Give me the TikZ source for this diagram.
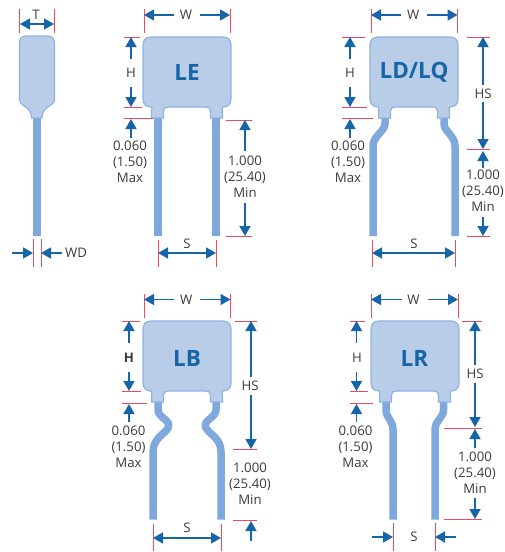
\documentclass[tikz,border=0pt]{standalone}
\usepackage{fontspec}
\setmainfont{Open Sans}
\usetikzlibrary{arrows.meta}
\definecolor{dimblue}{HTML}{1565A8}
\definecolor{redline}{HTML}{EE4A5C}
\definecolor{capfill}{HTML}{B9CDE9}
\definecolor{capedge}{HTML}{8FB2E2}
\definecolor{leadblue}{HTML}{7FA8DC}
\definecolor{txt}{HTML}{3A3A3A}
\tikzset{
  dimline/.style={draw=dimblue,line width=1.5pt,-{Triangle[length=10pt,width=11pt]}},
  dimboth/.style={draw=dimblue,line width=1.5pt,{Triangle[length=10pt,width=11pt]}-{Triangle[length=10pt,width=11pt]}},
  witness/.style={draw=redline,line width=1pt},
  lead/.style={draw=leadblue,line width=7.5pt,line join=round},
  capbody/.style={fill=capfill,draw=capedge,line width=1.2pt},
  lab/.style={text=txt,font=\fontsize{13.2}{16}\selectfont,align=center,inner sep=0pt},
  typename/.style={text=dimblue,font=\fontsize{22.5}{24}\selectfont\bfseries,inner sep=0pt},
}
% body outline, local coordinates: 88 wide, 70 high, necks down to 81
\newcommand{\capshape}{%
  \draw[capbody] (8,0) -- (80,0) .. controls (85,0) and (88,3) .. (88,8)
    -- (88,62) .. controls (88,67) and (85,70) .. (80,70)
    .. controls (78,70) and (79.5,71) .. (79.5,74) -- (79.5,81) -- (67.5,81) -- (67.5,74)
    .. controls (67.5,71.5) and (66,70) .. (63,70) -- (25,70)
    .. controls (22,70) and (20.5,71.5) .. (20.5,74) -- (20.5,81) -- (8.5,81) -- (8.5,74)
    .. controls (8.5,71) and (10,70) .. (8,70)
    .. controls (3,70) and (0,67) .. (0,62) -- (0,8) .. controls (0,3) and (3,0) .. (8,0) -- cycle;}
\newcommand{\wdim}[3]{% left, right, top of witness
  \draw[witness] (#1,#3) -- ++(0,24) (#2,#3) -- ++(0,24);
  \node[lab] at ({(#1+#2)/2-1},#3+6) {W};
  \draw[dimline] ({(#1+#2)/2-13},#3+6) -- (#1,#3+6);
  \draw[dimline] ({(#1+#2)/2+13},#3+6) -- (#2,#3+6);}
\begin{document}
\begin{tikzpicture}[x=1pt,y=-1pt]
\useasboundingbox (0,0) rectangle (504,552);

%% side view
\draw[lead] (37.2,112) -- (37.2,236);
\draw[capbody] (26,36) -- (48,36) .. controls (52,36) and (54.5,38.5) .. (54.5,43)
  -- (54.5,100) .. controls (54.5,106) and (42,106) .. (42,118) -- (31.5,118)
  .. controls (31.5,106) and (19.5,106) .. (19.5,100) -- (19.5,43)
  .. controls (19.5,38.5) and (22,36) .. (26,36) -- cycle;
\draw[witness] (19.5,9) -- (19.5,33) (54,9) -- (54,33);
\node[lab] (tT) at (36,15) {T};
\draw[dimboth] (20,24) -- (54,24);
\draw[witness] (33,239) -- (33,267) (41,239) -- (41,267);
\draw[dimline] (12,253) -- (33,253);
\draw[dimline] (62,253) -- (41,253);
\node[lab] (tWD) at (76,253) {WD};

%% LE
\draw[lead] (158,112) -- (158,236) (216,112) -- (216,236);
\begin{scope}[shift={(143,37)}]\capshape\end{scope}
\node[typename] (nLE) at (187,72) {LE};
\wdim{144}{230}{9}
\draw[witness] (124,37.5) -- (140,37.5) (124,107.5) -- (142,107.5) (124,118.5) -- (153,118.5);
\node[lab] (hLE) at (131,73) {H};
\draw[dimline] (131,59) -- (131,37);
\draw[dimline] (131,87) -- (131,107);
\draw[dimline] (131,138) -- (131,119);
\node[lab] (mLE) at (130,162) {0.060\\(1.50)\\Max};
\draw[witness] (226,120.5) -- (252,120.5) (226,236) -- (252,236);
\node[lab] (lLE) at (245,177) {1.000\\(25.40)\\Min};
\draw[dimline] (245,151) -- (245,120);
\draw[dimline] (245,203) -- (245,236);
\draw[witness] (158,240) -- (158,267) (216,240) -- (216,267);
\node[lab] (sLE) at (187,244) {S};
\draw[dimboth] (158,253) -- (216,253);

%% LD/LQ
\draw[lead] (385,112) -- (385,124) .. controls (385,131) and (373,136) .. (373,146) -- (373,236);
\draw[lead] (444,112) -- (444,124) .. controls (444,131) and (455,136) .. (455,146) -- (455,236);
\begin{scope}[shift={(370,37)}]\capshape\end{scope}
\node[typename] (nLD) at (414,72) {LD/LQ};
\wdim{371}{457.5}{9}
\draw[witness] (342,37.5) -- (365,37.5) (342,107.5) -- (367,107.5) (342,118.5) -- (373,118.5);
\node[lab] (hLD) at (350,73) {H};
\draw[dimline] (350,59) -- (350,37);
\draw[dimline] (350,87) -- (350,107);
\draw[dimline] (350,138) -- (350,119);
\node[lab] (mLD) at (348,162) {0.060\\(1.50)\\Max};
\draw[witness] (467,37.5) -- (490,37.5) (467,149.5) -- (490,149.5) (467,236) -- (490,236);
\node[lab] (hsLD) at (483,94) {HS};
\draw[dimline] (483,85) -- (483,37);
\draw[dimline] (483,102) -- (483,149);
\draw[dimline] (483,168) -- (483,151);
\node[lab] (lLD) at (483,191) {1.000\\(25.40)\\Min};
\draw[dimline] (483,217) -- (483,236);
\draw[witness] (372,240) -- (372,267) (455,240) -- (455,267);
\node[lab] (sLD) at (414,244) {S};
\draw[dimboth] (372,253) -- (455,253);

%% LB
\draw[lead] (158,397) -- (158,410) .. controls (158,418) and (172,420) .. (168,428)
  .. controls (165,434) and (153,438) .. (153,452) -- (153,519.5);
\draw[lead] (216,397) -- (216,410) .. controls (216,418) and (202,420) .. (206,428)
  .. controls (209,434) and (221,438) .. (221,452) -- (221,519.5);
\begin{scope}[shift={(143,321)}]\capshape\end{scope}
\node[typename] (nLB) at (187,358) {LB};
\wdim{144}{230.5}{293.5}
\draw[witness] (122,321.5) -- (140,321.5) (122,391.5) -- (141,391.5) (122,403.5) -- (147,403.5);
\node[lab,font=\fontsize{13.2}{16}\selectfont\bfseries] (hLB) at (129,358) {H};
\draw[dimline] (129,343) -- (129,321);
\draw[dimline] (129,372) -- (129,391);
\draw[dimline] (129,422) -- (129,404);
\node[lab] (mLB) at (128.5,447) {0.060\\(1.50)\\Max};
\draw[witness] (235,321.5) -- (257,321.5) (233,449.5) -- (257,449.5) (233,520) -- (257,520);
\node[lab] (hsLB) at (250,386) {HS};
\draw[dimline] (251,377) -- (251,321);
\draw[dimline] (251,395) -- (251,449);
\node[lab] (lLB) at (250,484) {1.000\\(25.40)\\Min};
\draw[dimline] (251,541) -- (251,521);
\draw[witness] (153,524) -- (153,551) (221,524) -- (221,551);
\node[lab] (sLB) at (187,528) {S};
\draw[dimboth] (153,538) -- (221,538);

%% LR
\draw[lead] (386,397) -- (386,410) .. controls (386,418) and (393,420) .. (393,430) -- (393,519.5);
\draw[lead] (443.5,397) -- (443.5,410) .. controls (443.5,418) and (435,420) .. (435,430) -- (435,519.5);
\begin{scope}[shift={(371,321)}]\capshape\end{scope}
\node[typename] (nLR) at (414.5,358) {LR};
\wdim{371}{458}{293.5}
\draw[witness] (350,321.5) -- (365,321.5) (350,391.5) -- (368,391.5) (350,403.5) -- (373,403.5);
\node[lab] (hLR) at (357,358) {H};
\draw[dimline] (356.5,343) -- (356.5,321);
\draw[dimline] (356.5,372) -- (356.5,391);
\draw[dimline] (356.5,422) -- (356.5,404);
\node[lab] (mLR) at (355.5,447) {0.060\\(1.50)\\Max};
\draw[witness] (462,321.5) -- (482,321.5) (444,428.5) -- (482,428.5) (444,519.5) -- (482,519.5);
\node[lab] (hsLR) at (475,374) {HS};
\draw[dimline] (475,365) -- (475,321);
\draw[dimline] (475,383) -- (475,427);
\draw[dimline] (475,448) -- (475,429);
\node[lab] (lLR) at (475,473) {1.000\\(25.40)\\Min};
\draw[dimline] (475,498) -- (475,519);
\draw[witness] (393,523) -- (393,551) (435,523) -- (435,551);
\draw[dimline] (372,537) -- (393,537);
\draw[dimline] (456,537) -- (435,537);
\node[lab] (sLR) at (414,537) {S};
\end{tikzpicture}
\end{document}
